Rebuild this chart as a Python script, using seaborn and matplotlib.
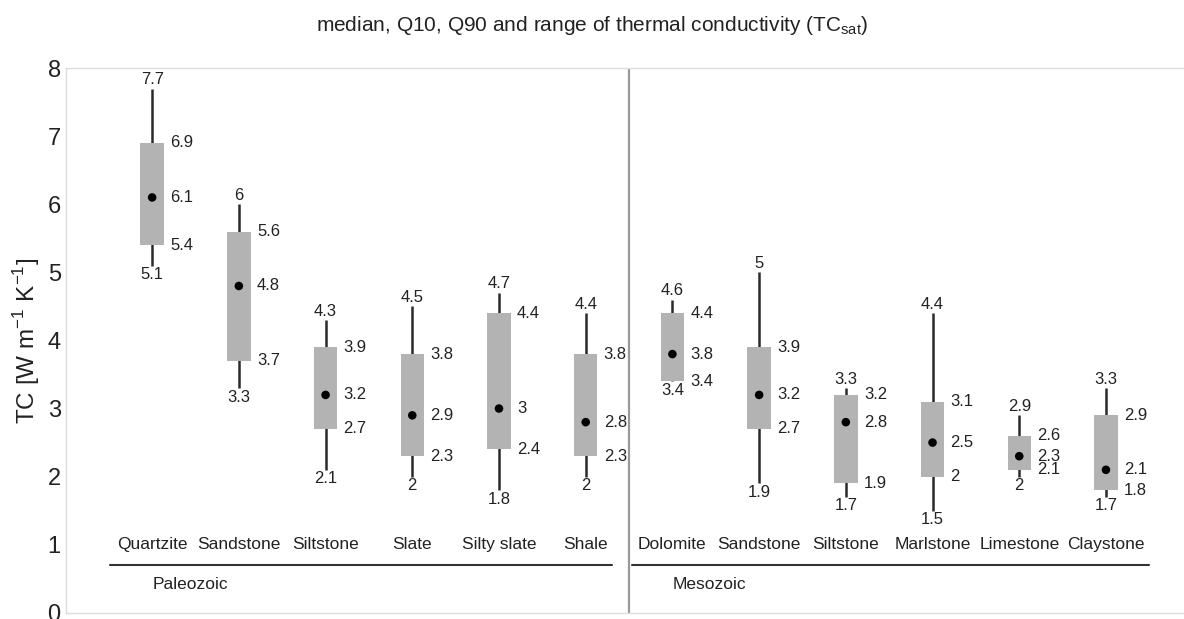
import numpy as np
import matplotlib
matplotlib.use("Agg")
import matplotlib.pyplot as plt
import seaborn as sns

# rock types, two groups of six
rocks = ['Quartzite', 'Sandstone', 'Siltstone', 'Slate', 'Silty slate', 'Shale',
         'Dolomite', 'Sandstone', 'Siltstone', 'Marlstone', 'Limestone', 'Claystone']
groups = ['Paleozoic', 'Mesozoic']

# TC_sat statistics [W m-1 K-1]
tc_min = [5.1, 3.3, 2.1, 2, 1.8, 2, 3.4, 1.9, 1.7, 1.5, 2, 1.7]
tc_q10 = [5.4, 3.7, 2.7, 2.3, 2.4, 2.3, 3.4, 2.7, 1.9, 2, 2.1, 1.8]
tc_med = [6.1, 4.8, 3.2, 2.9, 3, 2.8, 3.8, 3.2, 2.8, 2.5, 2.3, 2.1]
tc_q90 = [6.9, 5.6, 3.9, 3.8, 4.4, 3.8, 4.4, 3.9, 3.2, 3.1, 2.6, 2.9]
tc_max = [7.7, 6, 4.3, 4.5, 4.7, 4.4, 4.6, 5, 3.3, 4.4, 2.9, 3.3]


def fmt(v):
    return '%g' % v


def main():
    sns.set_style('white')
    plt.rcParams['font.family'] = ['Liberation Sans', 'DejaVu Sans']

    fig = plt.figure(figsize=(11.84, 6.19), dpi=100)
    ax = fig.add_axes([0.056, 0.01, 0.944, 0.88])

    pos = np.arange(len(rocks))
    q10 = np.array(tc_q10)
    q90 = np.array(tc_q90)

    # whiskers from min to max, boxes from Q10 to Q90
    ax.vlines(pos, tc_min, tc_max, color='#2a2a2a', lw=1.8, zorder=2)
    ax.bar(pos, q90 - q10, bottom=q10, width=0.27, color='#b3b3b3',
           edgecolor='none', zorder=3)
    sns.scatterplot(x=pos, y=tc_med, color='black', s=38, edgecolor='none',
                    zorder=4, ax=ax)

    fs = 12
    for i in pos:
        ax.annotate(fmt(tc_max[i]), (i, tc_max[i]), xytext=(0, 1),
                    textcoords='offset points', ha='center', va='bottom',
                    fontsize=fs, color='#222222')
        ax.annotate(fmt(tc_min[i]), (i, tc_min[i]), xytext=(0, -1),
                    textcoords='offset points', ha='center', va='top',
                    fontsize=fs, color='#222222')
        for v in (tc_q90[i], tc_med[i], tc_q10[i]):
            ax.annotate(fmt(v), (i, v), xytext=(13, 0),
                        textcoords='offset points', ha='left', va='center',
                        fontsize=fs, color='#222222')
        ax.text(i, 1.0, rocks[i], ha='center', va='center', fontsize=12.5,
                color='#222222')

    # group lines and names
    ax.plot([-0.49, 5.3], [0.7, 0.7], color='#333333', lw=1.5)
    ax.plot([5.53, 11.5], [0.7, 0.7], color='#333333', lw=1.5)
    ax.text(0, 0.42, groups[0], ha='left', va='center', fontsize=12.5,
            color='#222222')
    ax.text(6, 0.42, groups[1], ha='left', va='center', fontsize=12.5,
            color='#222222')
    ax.axvline(5.5, color='#999999', lw=1.6)

    ax.set_xlim(-0.99, 11.9)
    ax.set_ylim(0, 8)
    ax.set_xticks([])
    ax.set_yticks(range(9))
    ax.tick_params(axis='y', length=0, pad=4, labelsize=17, labelcolor='#222222')
    ax.set_ylabel(r'TC [W m$^{\mathregular{-1}}$ K$^{\mathregular{-1}}$]',
                  fontsize=17.5, color='#222222', labelpad=4)
    for s in ax.spines.values():
        s.set_color('#dddddd')
        s.set_linewidth(1)
    ax.spines['right'].set_visible(False)

    fig.suptitle(r'median, Q10, Q90 and range of thermal conductivity (TC$_{\mathregular{sat}}$)',
                 x=0.5, y=0.978, fontsize=15, color='#222222')

    fig.savefig('out.png', dpi=100)


if __name__ == '__main__':
    main()
